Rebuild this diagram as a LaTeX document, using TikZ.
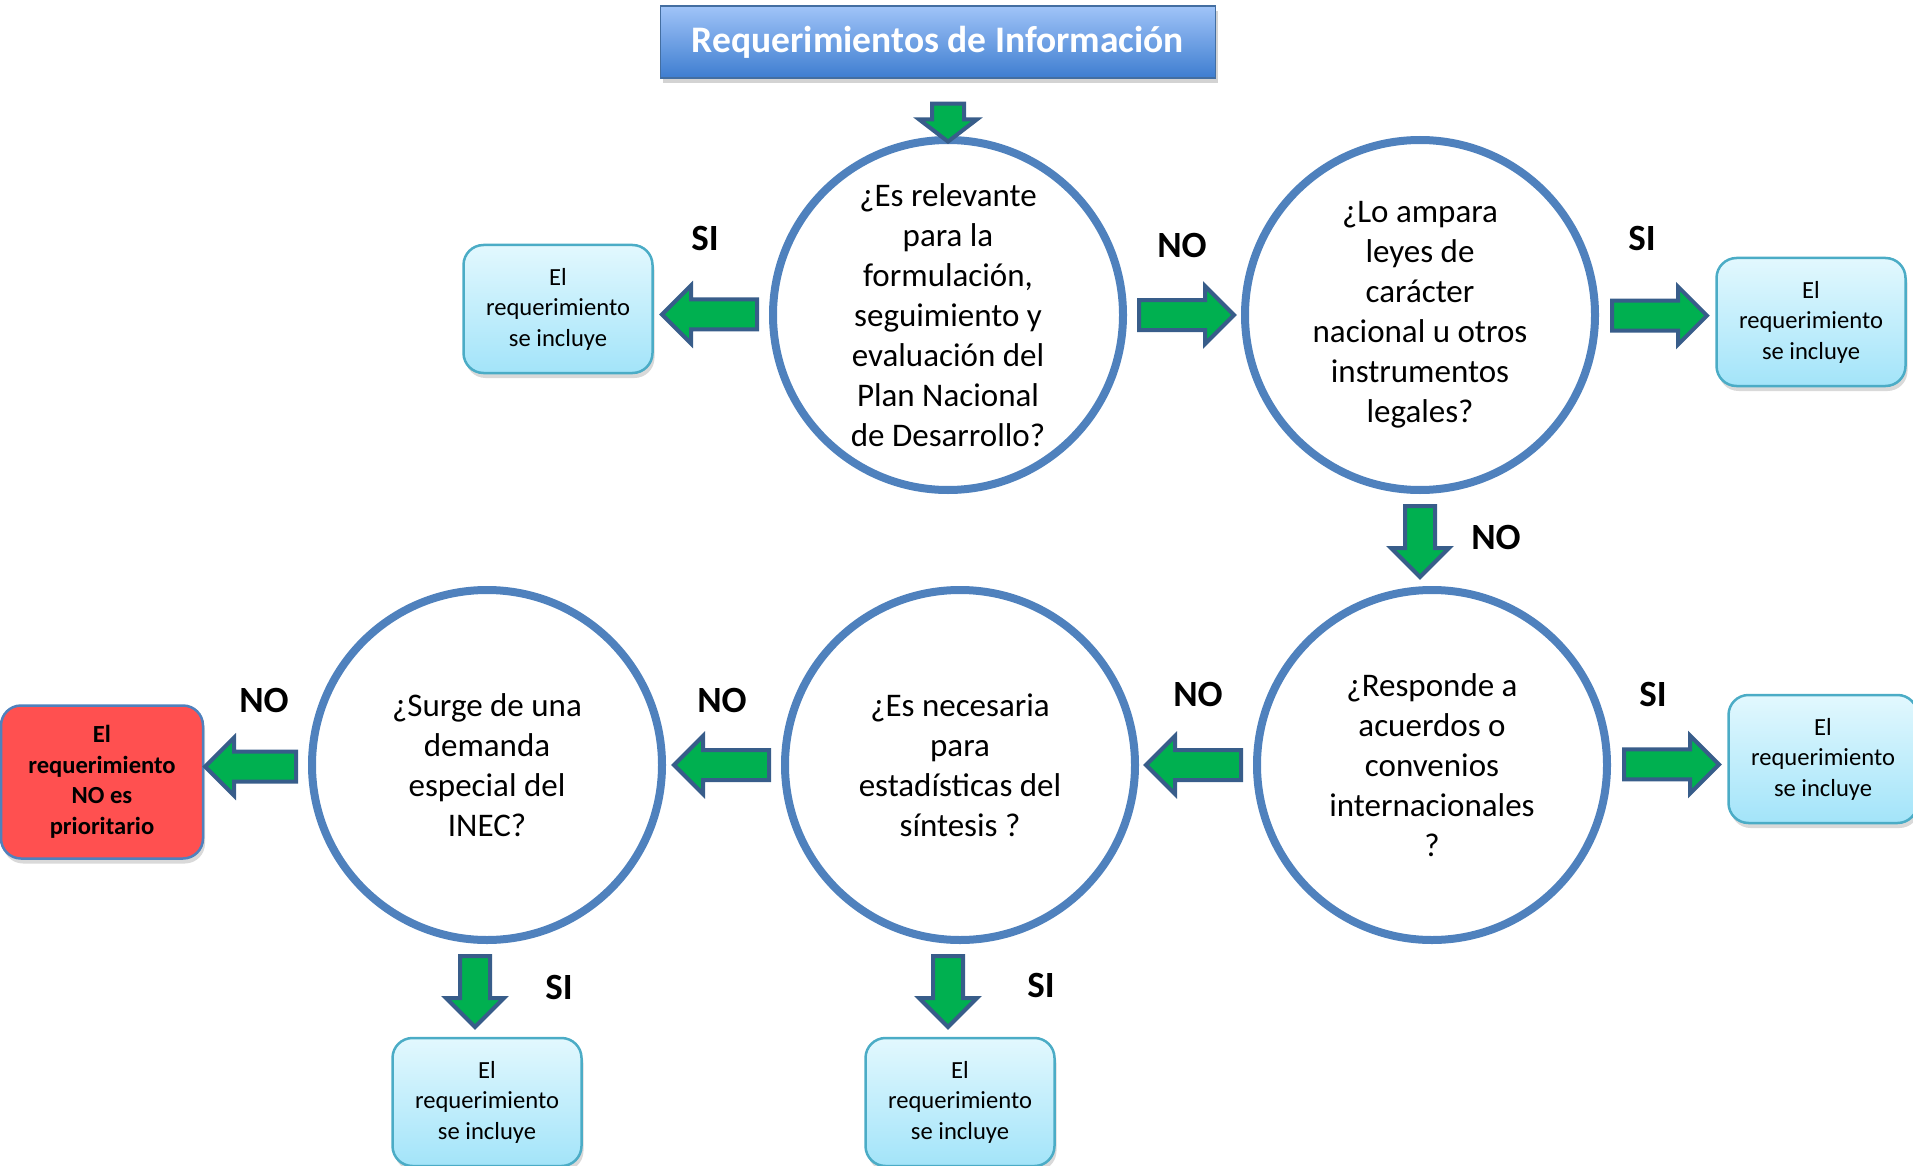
\documentclass[tikz,border=0pt]{standalone}
\usepackage{fontspec}
\setmainfont{Carlito}
\usetikzlibrary{calc,shapes.arrows,shadows}

\definecolor{ringblue}{RGB}{79,129,189}
\definecolor{arrowgreen}{RGB}{0,176,80}
\definecolor{arrowedge}{RGB}{56,93,138}
\definecolor{boxedge}{RGB}{75,172,198}
\definecolor{boxtop}{RGB}{226,248,254}
\definecolor{boxbottom}{RGB}{163,228,249}
\definecolor{nofill}{RGB}{255,80,80}
\definecolor{titletop}{RGB}{160,196,248}
\definecolor{titlebottom}{RGB}{62,125,208}

\tikzset{
    question/.style={circle, draw=ringblue, line width=8pt, minimum size=350pt,
        inner sep=0pt, align=center, font=\fontsize{33}{40}\selectfont},
    included/.style={rectangle, rounded corners=20pt, draw=boxedge, line width=2.5pt,
        top color=boxtop, bottom color=boxbottom, minimum width=189pt, minimum height=128pt,
        align=center, font=\fontsize{24.6}{30.5}\selectfont,
        drop shadow={shadow xshift=2pt, shadow yshift=-5pt, opacity=0.3}},
    rejected/.style={included, top color=nofill, bottom color=nofill, draw=ringblue,
        minimum width=202pt, minimum height=153pt, font=\bfseries\fontsize{24.6}{30.5}\selectfont},
    titlebox/.style={rectangle, draw=ringblue!85!black, line width=1.2pt,
        top color=titletop, bottom color=titlebottom, minimum width=555pt, minimum height=72pt,
        text=white, font=\bfseries\fontsize{37.5}{40}\selectfont,
        drop shadow={shadow xshift=2pt, shadow yshift=-5pt, opacity=0.35}},
    blockarrow/.style={single arrow, draw=arrowedge, fill=arrowgreen, line width=4pt,
        inner xsep=0pt, inner ysep=13pt, minimum height=95pt,
        single arrow head extend=14pt, anchor=tail},
    answer/.style={font=\bfseries\fontsize{37}{40}\selectfont}
}

\begin{document}
\begin{tikzpicture}[x=1pt,y=-1pt]
    \useasboundingbox (0,0) rectangle (1913,1166);

    % title and questions
    \node[titlebox] (title) at (938,42) {Requerimientos de Información};
    \node[question] (q1) at (948,315) {¿Es relevante\\para la\\formulación,\\seguimiento y\\evaluación del\\Plan Nacional\\de Desarrollo?};
    \node[question] (q2) at (1420,315) {¿Lo ampara\\leyes de\\carácter\\nacional u otros\\instrumentos\\legales?};
    \node[question] (q3) at (1432,765) {¿Responde a\\acuerdos o\\convenios\\internacionales\\?};
    \node[question] (q4) at (960,765) {¿Es necesaria\\para\\estadísticas del\\síntesis ?};
    \node[question] (q5) at (487,765) {¿Surge de una\\demanda\\especial del\\INEC?};

    % results
    \node[included] (r1) at (558,309) {El\\requerimiento\\se incluye};
    \node[included] (r2) at (1811,322) {El\\requerimiento\\se incluye};
    \node[included] (r3) at (1823,759) {El\\requerimiento\\se incluye};
    \node[included] (r4) at (487,1102) {El\\requerimiento\\se incluye};
    \node[included] (r5) at (960,1102) {El\\requerimiento\\se incluye};
    \node[rejected] (r0) at (102,782) {El\\requerimiento\\NO es\\prioritario};

    % block arrows, placed by their tails
    \node[blockarrow, rotate=-90, minimum height=38pt, inner ysep=14pt,
        single arrow head extend=13pt, single arrow tip angle=105] (a0) at ($(q1.north |- title.south)+(0,23)$) {};
    \node[blockarrow, rotate=180] (a1) at ($(q1.west)!10pt!(r1.east)$) {};
    \node[blockarrow] (a2) at ($(q1.east)!10pt!(q2.west)$) {};
    \node[blockarrow] (a3) at ($(q2.east)!11pt!(r2.west)$) {};
    \node[blockarrow, rotate=-90, minimum height=71pt] (a4) at ($(q2.south)+(0,10)$) {};
    \node[blockarrow] (a5) at ($(q3.east)!11pt!(r3.west)$) {};
    \node[blockarrow, rotate=180] (a6) at ($(q3.west)!10pt!(q4.east)$) {};
    \node[blockarrow, rotate=180] (a7) at ($(q4.west)!10pt!(q5.east)$) {};
    \node[blockarrow, rotate=180, minimum height=91pt] (a8) at ($(q5.west)!10pt!(r0.east)$) {};
    \node[blockarrow, rotate=-90, minimum height=71pt] (a9) at ($(q5.south)+(-12,10)$) {};
    \node[blockarrow, rotate=-90, minimum height=71pt] (a10) at ($(q4.south)+(-12,10)$) {};

    % answers
    \node[answer] (s1) at (705,238) {SI};
    \node[answer] (n2) at (1182,245) {NO};
    \node[answer] (s3) at (1642,238) {SI};
    \node[answer] (n4) at (1496,537) {NO};
    \node[answer] (s5) at (1653,694) {SI};
    \node[answer] (n6) at (1198,694) {NO};
    \node[answer] (n7) at (722,700) {NO};
    \node[answer] (n8) at (264,700) {NO};
    \node[answer] (s9) at (559,987) {SI};
    \node[answer] (s10) at (1041,985) {SI};
\end{tikzpicture}
\end{document}
